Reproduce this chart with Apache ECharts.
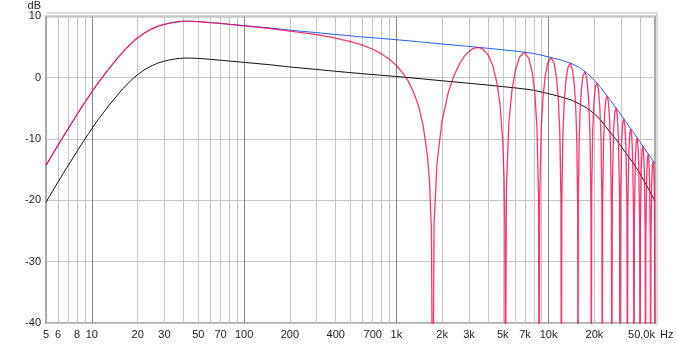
<!DOCTYPE html>
<html><head><meta charset="utf-8">
<script src="https://cdn.jsdelivr.net/npm/echarts@6/dist/echarts.min.js"></script>
<style>html,body{margin:0;padding:0;background:#fff}#c{width:677px;height:345px}</style>
</head><body><div id="c"></div>
<script>
// Envelope (blue) and half-level (black) curves, frequency in Hz, level in dB
const envFreq = [5,5.5,6,6.5,7,7.5,8,8.5,9,9.5,10,11,12,13,14,15,16,17,18,19,20,22,25,27.5,30,32.5,35,37.5,40,45,50,60,70,80,100,150,200,300,400,600,800,1000,1500,2000,3000,4000,5000,6000,7000,8000,10000,12000,14000,16000,18000,20000,22000,25000,28000,32000,36000,40000,45000,50000];
const envDb = [-14.3,-12.57,-11.0,-9.58,-8.3,-7.11,-6.0,-4.96,-4.0,-3.16,-2.3,-0.84,0.4,1.52,2.5,3.4,4.2,4.9,5.5,6.05,6.5,7.26,8.0,8.44,8.7,8.91,9.05,9.145,9.2,9.2,9.15,9.0,8.85,8.72,8.5,8.1,7.75,7.35,7.05,6.65,6.4,6.2,5.8,5.5,5.1,4.8,4.55,4.35,4.15,3.95,3.4,2.9,2.35,1.65,0.7,-0.4,-1.6,-3.4,-5.05,-7.1,-8.9,-10.5,-12.4,-14.0];
const halfDb = [-20.3,-18.57,-17.0,-15.58,-14.3,-13.11,-12.0,-10.96,-10.0,-9.16,-8.3,-6.84,-5.6,-4.48,-3.5,-2.6,-1.8,-1.1,-0.5,0.05,0.5,1.26,2.0,2.44,2.7,2.91,3.05,3.145,3.2,3.2,3.15,3.0,2.85,2.72,2.5,2.1,1.75,1.35,1.05,0.65,0.4,0.2,-0.2,-0.5,-0.9,-1.2,-1.45,-1.65,-1.85,-2.05,-2.6,-3.1,-3.6,-4.3,-5.0,-5.9,-6.9,-8.7,-10.2,-12.2,-13.9,-15.7,-18.0,-20.1];

// Comb-filtered curve (red)
const combFreq = [5,5.5,6,6.5,7,7.5,8,8.5,9,9.5,10,11,12,13,14,15,16,17,18,19,20,22,25,27.5,30,32.5,35,37.5,40,45,50,60,70,80,100,150,200,300,400,500,600,700,800,900,1000,1100,1200,1300,1400,1500,1600,1650,1700,1733,
1770,1850,2000,2200,2400,2600,2800,3000,3200,3466,3700,4000,4300,4600,4800,5000,5100,5160,5200,
5283,5483,5733,6033,6433,6933,7433,7833,8133,8383,8583,8666,
8750,8950,9200,9500,9900,10400,10900,11300,11600,11850,12050,12133,
12216,12416,12666,12966,13366,13866,14366,14766,15066,15316,15516,15600,
15683,15883,16133,16433,16833,17333,17833,18233,18533,18783,18983,19066,
19200,19500,19900,20350,20800,21250,21700,22100,22400,22533,
22666,22966,23366,23816,24266,24716,25166,25566,25866,26000,
26233,26733,27233,27733,28233,28733,29233,29466,
29700,30200,30700,31200,31700,32200,32700,32933,
33166,33666,34166,34666,35166,35666,36166,36400,
36633,37133,37633,38133,38633,39133,39633,39866,
40100,40600,41100,41600,42100,42600,43100,43333,
43566,44066,44566,45066,45566,46066,46566,46800,
47033,47533,48033,48533,49033,49533,50266];
const combDb = [-14.3,-12.57,-11.0,-9.58,-8.3,-7.11,-6.0,-4.96,-4.0,-3.16,-2.3,-0.84,0.4,1.52,2.5,3.4,4.2,4.9,5.5,6.05,6.5,7.26,8.0,8.44,8.7,8.91,9.05,9.145,9.2,9.2,9.15,9.0,8.85,8.7,8.45,8.02,7.61,7.03,6.47,5.9,5.3,4.64,3.88,3.0,2.0,0.8,-0.6,-2.4,-4.6,-7.8,-12.7,-16.8,-24.8,-60,
-23.9,-13.9,-6.9,-2.3,0.42,2.24,3.52,4.3,4.77,4.95,4.68,3.73,1.96,-1.08,-4.45,-10.3,-16.4,-24.4,-60,
-18.0,-7.45,-2.25,1.05,3.33,4.16,3.13,0.69,-2.74,-8.07,-18.7,-60,
-18.8,-8.2,-3.04,0.24,2.49,3.29,2.23,-0.22,-3.66,-8.97,-19.6,-60,
-19.7,-9.12,-3.94,-0.67,1.59,2.38,1.28,-1.22,-4.69,-10.0,-20.7,-60,
-20.7,-10.2,-5.07,-1.86,0.31,1.0,-0.16,-2.72,-6.26,-11.6,-22.4,-60,
-18.4,-8.47,-3.64,-1.36,-0.89,-1.9,-4.72,-9.99,-20.3,-60,
-20.4,-10.5,-5.74,-3.46,-2.98,-3.98,-6.79,-12.1,-22.3,-60,
-17.7,-8.58,-5.58,-4.91,-6.11,-9.65,-19.3,-60,
-19.6,-10.4,-7.39,-6.71,-7.89,-11.4,-21.0,-60,
-21.3,-12.1,-9.03,-8.32,-9.47,-13.0,-22.6,-60,
-22.8,-13.6,-10.5,-9.78,-10.9,-14.4,-24.0,-60,
-24.1,-14.9,-11.9,-11.1,-12.3,-15.7,-25.3,-60,
-25.5,-16.3,-13.2,-12.4,-13.5,-17.0,-26.5,-60,
-26.8,-17.5,-14.4,-13.65,-14.7,-18.2,-60];

// Axis ticks / labels
const xLabelValues = [5,6,8,10,20,30,50,70,100,200,400,700,1000,2000,3000,5000,7000,10000,20000,50000];
const minorGridValues = [6,7,8,9,20,30,40,50,60,70,80,90,200,300,400,500,600,700,800,900,2000,3000,4000,5000,6000,7000,8000,9000,20000,30000,40000];
const decadeGridValues = [10,100,1000,10000];
const yMin = -40, yMax = 10, yStep = 10;
const xUnit = 'Hz', yUnit = 'dB';

const FONT = '"Liberation Sans", Arial, sans-serif';
const TXT = '#222';

function xFmt(v) {
  const n = Math.round(v);
  if (n === 50000) return '{r|50,0k}';
  if (n >= 1000) return (n / 1000) + 'k';
  return String(n);
}
function pairs(fs, ds) { return fs.map((f, i) => [f, ds[i]]); }

const chart = echarts.init(document.getElementById('c'), null, {renderer: 'canvas'});
chart.setOption({
  animation: false,
  backgroundColor: '#fff',
  grid: {left: 46, right: 22, top: 15, bottom: 22, show: true, borderColor: '#ababab', borderWidth: 2},
  graphic: [
    {type: 'rect', shape: {x: 46, y: 12, width: 612, height: 2}, style: {fill: '#dcdcdc'}, silent: true},
    {type: 'rect', shape: {x: 656, y: 12, width: 2, height: 313}, style: {fill: '#dcdcdc'}, silent: true},
    {type: 'text', x: 660, y: 329, style: {text: xUnit, font: '11px "Liberation Sans", Arial, sans-serif', fill: TXT, textVerticalAlign: 'top'}, silent: true}
  ],
  xAxis: [{
    type: 'log', logBase: 10, min: 5, max: 50000,
    axisLine: {show: false},
    axisTick: {show: false, customValues: minorGridValues},
    axisLabel: {customValues: xLabelValues, formatter: xFmt, fontFamily: FONT, fontSize: 11, color: TXT, margin: 6,
      rich: {r: {fontFamily: FONT, fontSize: 11, color: TXT, padding: [0, 27, 0, 0]}}},
    splitLine: {show: true, lineStyle: {color: '#c6c6c6', width: 1}}
  }, {
    type: 'log', logBase: 10, min: 5, max: 50000, position: 'bottom',
    axisLine: {show: false},
    axisTick: {show: false, customValues: decadeGridValues},
    axisLabel: {show: false},
    splitLine: {show: true, lineStyle: {color: '#858585', width: 1}}
  }],
  yAxis: {
    type: 'value', min: yMin, max: yMax, interval: yStep,
    name: yUnit, nameLocation: 'end', nameGap: 3,
    nameTextStyle: {fontFamily: FONT, fontSize: 11, color: TXT, align: 'right', verticalAlign: 'bottom', padding: [0, 5, 0, 0]},
    axisLine: {show: false}, axisTick: {show: false},
    axisLabel: {fontFamily: FONT, fontSize: 11, color: TXT, margin: 5},
    splitLine: {show: true, lineStyle: {color: '#c6c6c6', width: 1}}
  },
  series: [{
    name: 'half', type: 'line', xAxisIndex: 0, showSymbol: false, symbol: 'none',
    data: pairs(envFreq, halfDb), lineStyle: {color: '#111', width: 1}
  }, {
    name: 'envelope', type: 'line', xAxisIndex: 0, showSymbol: false, symbol: 'none',
    data: pairs(envFreq, envDb), lineStyle: {color: '#2262ff', width: 1}
  }, {
    name: 'comb', type: 'line', xAxisIndex: 0, showSymbol: false, symbol: 'none',
    data: pairs(combFreq, combDb), lineStyle: {color: '#ff0a50', width: 1.3, opacity: 0.82}
  }]
});
</script></body></html>
